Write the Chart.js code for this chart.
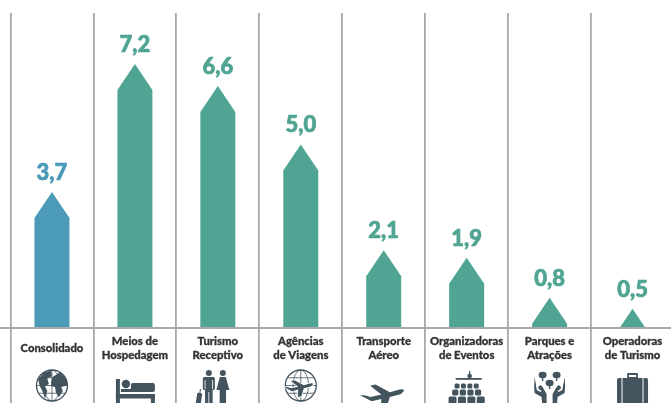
<!DOCTYPE html>
<html><head><meta charset="utf-8">
<style>html,body{margin:0;padding:0;background:#fff;overflow:hidden;width:671px;height:403px}canvas{display:block}</style>
<script src="https://cdn.jsdelivr.net/npm/chart.js@4"></script>
</head><body><canvas id="c" width="674" height="403"></canvas>
<script>
const categories = [["Consolidado"],["Meios de","Hospedagem"],["Turismo","Receptivo"],["Agências","de Viagens"],["Transporte","Aéreo"],["Organizadoras","de Eventos"],["Parques e","Atrações"],["Operadoras","de Turismo"]];
const values = [3.7,7.2,6.6,5.0,2.1,1.9,0.8,0.5];
const colors = ["#4b9ab7","#50a493","#50a493","#50a493","#50a493","#50a493","#50a493","#50a493"];
const ICON = "#44545f", GRID = "#a9a9a9";

// pointed-top bars
Chart.BarElement.prototype.draw = function(ctx){
  const {x,y,base,width} = this.getProps(['x','y','base','width']);
  const slope = 26/17.5, h = base-y;
  const hw = Math.min(width/2, h/slope), sh = y + hw*slope;
  ctx.save();
  ctx.fillStyle = this.options.backgroundColor;
  ctx.beginPath();
  ctx.moveTo(x,y); ctx.lineTo(x+hw,sh); ctx.lineTo(x+hw,base); ctx.lineTo(x-hw,base); ctx.lineTo(x-hw,sh);
  ctx.closePath(); ctx.fill(); ctx.restore();
};

function poly(c,pts){c.beginPath();pts.forEach((p,i)=>i?c.lineTo(p[0],p[1]):c.moveTo(p[0],p[1]));c.closePath();c.fill();}
function globe(c,x,y,r,land){
  c.lineWidth=1.3;c.strokeStyle=ICON;c.fillStyle=ICON;
  c.beginPath();c.arc(x,y,r,0,7);c.stroke();
  c.lineWidth=.8;
  c.beginPath();c.ellipse(x,y,r*.5,r,0,0,7);c.moveTo(x,y-r);c.lineTo(x,y+r);
  c.moveTo(x-r,y);c.lineTo(x+r,y);c.moveTo(x-r*.85,y-r*.5);c.lineTo(x+r*.85,y-r*.5);c.moveTo(x-r*.85,y+r*.5);c.lineTo(x+r*.85,y+r*.5);c.stroke();
  if(land){
    const P=a=>a.map(p=>[x+p[0]*r,y+p[1]*r]);
    poly(c,P([[-.9,-.4],[-.5,-.85],[-.05,-.95],[.0,-.6],[-.3,-.45],[-.2,-.1],[-.45,.05],[-.3,.35],[-.45,.85],[-.6,.4],[-.8,.0]]));
    poly(c,P([[.05,-.55],[.5,-.85],[.95,-.4],[.98,.0],[.6,.1],[.7,.35],[.45,.75],[.25,.45],[.2,.1],[-.05,.05],[-.05,-.25]]));
  }
}
function plane(c,x,y,s,stroke){
  c.save();c.translate(x,y);c.rotate(-.24);c.scale(s,s);
  c.fillStyle=ICON;
  if(stroke){c.strokeStyle='#fff';c.lineWidth=1.4/s;}
  c.beginPath();
  c.moveTo(-21,-5);c.lineTo(-17,-4);c.lineTo(-12,-1);c.lineTo(-2,-1);c.lineTo(-10,-11);c.lineTo(-5,-11);c.lineTo(6,-1);c.lineTo(15,-1.5);
  c.quadraticCurveTo(23,-.5,15,3);c.lineTo(5,3);c.lineTo(-1,13);c.lineTo(-6,13);c.lineTo(-3,3);c.lineTo(-12,3);c.closePath();
  if(stroke)c.stroke();
  c.fill();c.restore();
}
function person(c,x,y,female){
  c.fillStyle=ICON;
  c.beginPath();c.arc(x,y+3,3,0,7);c.fill();
  if(female) poly(c,[[x-3,y+7],[x+3,y+7],[x+6.5,y+20],[x+3.2,y+20],[x+3.2,y+36],[x-3.2,y+36],[x-3.2,y+20],[x-6.5,y+20]]);
  else {
    c.beginPath();c.roundRect(x-6,y+7,12,13,1.5);c.fill();
    c.fillRect(x-3.8,y+18,7.6,18);
    c.fillStyle='#fff';c.fillRect(x-.4,y+22,.8,14);
    c.fillRect(x-4.2,y+10,.8,9);c.fillRect(x+3.4,y+10,.8,9);c.fillStyle=ICON;
  }
}
const icons = [
 (c,x,y)=>globe(c,x,y+18.5,15.5,true),
 (c,x,y)=>{c.fillStyle=ICON;c.fillRect(x-19,y+12,4,26);c.fillRect(x-19,y+27,39,4.5);c.fillRect(x+16,y+27,4,11);
   c.beginPath();c.arc(x-9,y+17,4.2,0,7);c.fill();
   c.beginPath();c.roundRect(x-4,y+16,24,9,2);c.fill();c.fillRect(x-14,y+22,12,3);},
 (c,x,y)=>{person(c,x-9,y+3,false);person(c,x+5,y+3,true);
   c.fillStyle=ICON;c.save();c.translate(x-18,y+26);c.rotate(.15);c.beginPath();c.roundRect(-2.5,0,5,12,1);c.fill();c.fillRect(-.5,-4,1,5);c.restore();},
 (c,x,y)=>{globe(c,x,y+18.5,15.5,false);plane(c,x-1,y+20,.72,true);},
 (c,x,y)=>plane(c,x,y+28,1.1,false),
 (c,x,y)=>{c.fillStyle=ICON;c.fillRect(x-11,y+11,26,1.8);c.beginPath();c.arc(x+3,y+9,2.3,0,7);c.fill();c.fillRect(x+2.4,y+4,1.2,3);
   for(const [yy,w,h] of [[y+16.5,5,5],[y+22.5,6.2,6],[y+29.5,8,7]]){for(let i=0;i<4;i++){const g=w+1.4,xx=x-(4*g-1.4)/2+i*g;c.beginPath();c.roundRect(xx,yy,w,h,1.5);c.fill();}}},
 (c,x,y)=>{c.fillStyle=ICON;for(const [dx,dy] of [[-7,8],[7,8],[0,16]]){c.beginPath();c.ellipse(x+dx,y+dy,4,3.2,0,0,7);c.fill();c.fillRect(x+dx-.7,y+dy,1.4,6);}
   const hand=d=>poly(c,[[x+d*15,y+10],[x+d*13,y+21],[x+d*9,y+18],[x+d*7,y+20],[x+d*3,y+27],[x+d*3,y+36],[x+d*7.5,y+36],[x+d*8,y+30],[x+d*15,y+26],[x+d*15.5,y+20]]);
   hand(-1);hand(1);
   c.fillStyle='#fff';poly(c,[[x-13.8,y+14],[x-12.6,y+14],[x-11,y+22],[x-8,y+24],[x-9,y+25],[x-12.8,y+23]]);poly(c,[[x+13.8,y+14],[x+12.6,y+14],[x+11,y+22],[x+8,y+24],[x+9,y+25],[x+12.8,y+23]]);},
 (c,x,y)=>{c.fillStyle=ICON;c.beginPath();c.roundRect(x-15.5,y+11,31,26,2);c.fill();c.strokeStyle='#fff';c.lineWidth=1;c.beginPath();c.moveTo(x-10.5,y+11);c.lineTo(x-10.5,y+37);c.moveTo(x+10.5,y+11);c.lineTo(x+10.5,y+37);c.stroke();
   c.strokeStyle=ICON;c.lineWidth=1.8;c.strokeRect(x-4.5,y+7,9,4);}
];

const extras = {
  id:'extras',
  afterDatasetsDraw(chart){
    const c=chart.ctx, meta=chart.getDatasetMeta(0), sx=chart.scales.x, sy=chart.scales.y;
    c.save();
    c.strokeStyle=GRID;c.lineWidth=1.8;
    const by=sy.getPixelForValue(0)+1;
    c.beginPath();c.moveTo(0,by);c.lineTo(chart.width,by);c.stroke();
    c.textAlign='center';c.textBaseline='alphabetic';
    meta.data.forEach((el,i)=>{
      const t=values[i].toFixed(1).replace('.',',');
      c.font='900 22px Lato';
      c.fillStyle=colors[i];c.strokeStyle=colors[i];c.lineWidth=.7;c.lineJoin='round';
      c.fillText(t,el.x,el.y-12);
      c.strokeText(t,el.x,el.y-12);
      icons[i](c,sx.getPixelForTick(i),367);
    });
    c.restore();
  }
};

new Chart(document.getElementById('c'),{
  type:'bar',
  data:{labels:categories,datasets:[{data:values,backgroundColor:colors,barThickness:35}]},
  plugins:[extras],
  options:{
    responsive:false,animation:false,devicePixelRatio:1,
    layout:{padding:{left:10.5,right:0,top:13,bottom:0}},
    plugins:{legend:{display:false},tooltip:{enabled:false},title:{display:false}},
    scales:{
      x:{
        offset:true,
        afterFit(s){s.height=76;},
        grid:{display:true,color:GRID,lineWidth:1.8,offset:true,drawOnChartArea:true,drawTicks:true,tickLength:76,tickColor:GRID},
        border:{display:false},
        ticks:{padding:-62,crossAlign:'center',maxRotation:0,autoSkip:false,color:'#333',textStrokeColor:'#333',textStrokeWidth:0.3,font:{family:'Lato',size:11.3,weight:'900',lineHeight:14/11.3}}
      },
      y:{display:false,min:0,max:8.6}
    }
  }
});
</script></body></html>
